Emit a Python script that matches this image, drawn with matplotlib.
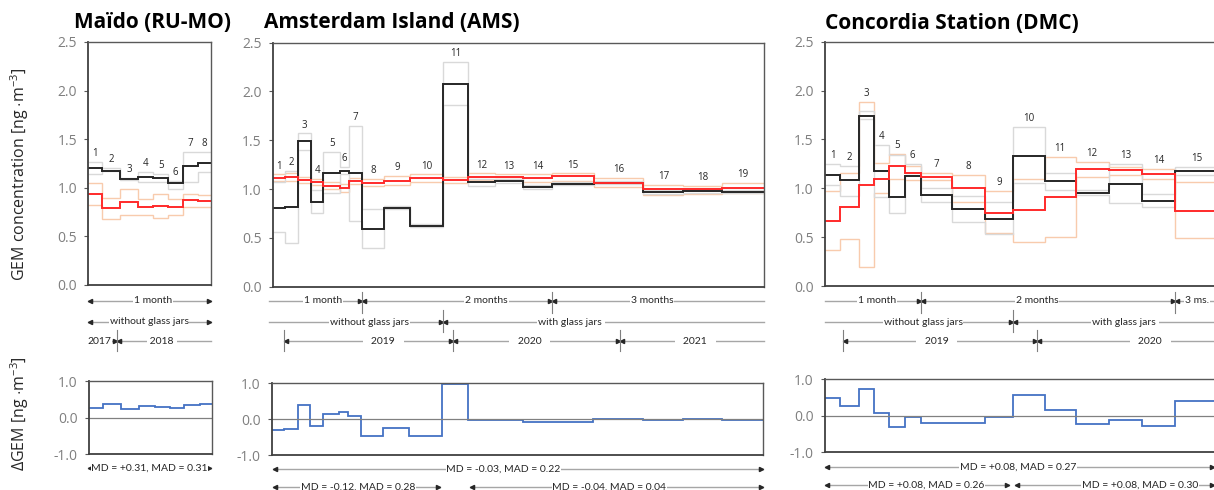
import matplotlib.pyplot as plt
import matplotlib.transforms as mtransforms
import numpy as np

plt.rcParams['font.family'] = ['Open Sans', 'DejaVu Sans']
plt.rcParams['mathtext.fontset'] = 'custom'
plt.rcParams['mathtext.rm'] = 'Open Sans'

# ---- data ----
# sampling periods in days
mo_days = [27, 37, 35, 32, 30, 29, 31, 25]
mo_black = [1.20, 1.175, 1.09, 1.11, 1.10, 1.05, 1.22, 1.26]
mo_ghi = [1.27, 1.20, 1.10, 1.16, 1.14, 1.07, 1.37, 1.37]
mo_glo = [1.14, 1.17, 1.08, 1.055, 1.06, 0.99, 1.06, 1.16]
mo_red = [0.94, 0.79, 0.85, 0.80, 0.81, 0.80, 0.87, 0.86]
mo_ohi = [1.05, 0.89, 0.99, 0.88, 0.94, 0.88, 0.94, 0.925]
mo_olo = [0.82, 0.68, 0.72, 0.72, 0.685, 0.72, 0.80, 0.80]
mo_delta = [0.27, 0.37, 0.23, 0.31, 0.28, 0.25, 0.34, 0.38]

ams_days = [28, 31, 29, 29, 38, 21, 30, 51, 59, 77, 58, 62, 65, 67, 96, 114, 92, 90, 96]
ams_black = [0.81, 0.82, 1.49, 0.87, 1.17, 1.19, 1.165, 0.59, 0.81, 0.62, 2.08, 1.07, 1.08,
             1.02, 1.05, 1.06, 0.97, 0.98, 0.97]
ams_ghi = [1.07, 1.19, 1.57, 0.99, 1.38, 1.23, 1.65, 0.80, 0.83, 0.64, 2.30, 1.10, 1.10,
           1.04, 1.07, 1.08, 0.99, 1.00, 0.99]
ams_glo = [0.56, 0.45, 1.40, 0.76, 0.96, 1.15, 0.67, 0.40, 0.80, 0.61, 1.86, 1.03, 1.06,
           1.00, 1.04, 1.05, 0.95, 0.96, 0.96]
ams_red = [1.11, 1.12, 1.09, 1.07, 1.035, 1.01, 1.08, 1.065, 1.085, 1.11, 1.09, 1.12, 1.12,
           1.11, 1.13, 1.065, 1.00, 1.00, 1.01]
ams_ohi = [1.15, 1.16, 1.12, 1.10, 1.07, 1.05, 1.11, 1.10, 1.13, 1.15, 1.12, 1.16, 1.15,
           1.15, 1.16, 1.11, 1.04, 1.035, 1.06]
ams_olo = [1.08, 1.08, 1.06, 1.04, 1.00, 0.97, 1.05, 1.03, 1.04, 1.07, 1.06, 1.09, 1.10,
           1.07, 1.08, 1.02, 0.94, 0.95, 0.96]
ams_delta = [-0.30, -0.28, 0.40, -0.19, 0.14, 0.19, 0.09, -0.46, -0.25, -0.48, 0.98, -0.04,
             -0.03, -0.07, -0.07, -0.01, -0.02, -0.01, -0.03]

dmc_days = [29, 35, 28, 28, 30, 30, 60, 61, 53, 60, 58, 62, 63, 62, 81]
dmc_black = [1.14, 1.08, 1.74, 1.18, 0.91, 1.13, 0.93, 0.79, 0.69, 1.33, 1.07, 0.955, 1.04, 0.87, 1.18]
dmc_ghi = [1.245, 1.23, 1.79, 1.44, 1.34, 1.245, 1.00, 0.92, 0.86, 1.63, 1.16, 0.98, 1.245, 0.94, 1.22]
dmc_glo = [1.03, 0.92, 1.71, 0.91, 0.75, 1.14, 0.86, 0.65, 0.53, 1.05, 0.98, 0.93, 0.85, 0.81, 1.14]
dmc_red = [0.67, 0.81, 1.03, 1.10, 1.23, 1.16, 1.12, 1.00, 0.75, 0.78, 0.91, 1.20, 1.19, 1.15, 0.77]
dmc_ohi = [0.97, 1.16, 1.88, 1.255, 1.35, 1.23, 1.16, 1.14, 0.97, 1.095, 1.32, 1.27, 1.22, 1.20, 1.06]
dmc_olo = [0.37, 0.48, 0.19, 0.95, 1.095, 1.085, 1.085, 0.86, 0.545, 0.45, 0.505, 1.12, 1.14, 1.10, 0.49]
dmc_delta = [0.47, 0.26, 0.72, 0.08, -0.30, -0.03, -0.19, -0.21, -0.05, 0.55, 0.16, -0.24, -0.13,
             -0.27, 0.39]

BLACK = '#262626'
RED = '#FF2A2A'
GREY = '#D9D9D9'
ORANGE = '#F8CBAD'
BLUE = '#4472C4'
ALINE = '#A6A6A6'

W, H = 1214, 490
fig = plt.figure(figsize=(W / 100, H / 100), dpi=100)


def px_axes(l, t, r, b):
    return fig.add_axes([l / W, 1 - b / H, (r - l) / W, (b - t) / H])


def style(ax, ylim, yticks):
    ax.set_ylim(*ylim)
    ax.set_yticks(yticks)
    ax.set_yticklabels(['%.1f' % v for v in yticks])
    ax.set_xticks([])
    ax.tick_params(axis='y', length=3, width=0.8, color='#595959', labelcolor='#7F7F7F',
                   labelsize=10, pad=5)
    for s in ['left', 'bottom']:
        ax.spines[s].set_color('#404040')
        ax.spines[s].set_linewidth(1.3)
    for s in ['top', 'right']:
        ax.spines[s].set_color('#595959')
        ax.spines[s].set_linewidth(1.0)


def top_panel(ax, days, black, ghi, glo, red, ohi, olo):
    edges = np.concatenate([[0], np.cumsum(days)])
    for v in (ohi, olo):
        ax.stairs(v, edges, baseline=None, color=ORANGE, lw=1.0)
    for v in (ghi, glo):
        ax.stairs(v, edges, baseline=None, color=GREY, lw=1.0)
    ax.stairs(black, edges, baseline=None, color=BLACK, lw=1.4)
    ax.stairs(red, edges, baseline=None, color=RED, lw=1.4)
    for i in range(len(days)):
        top = max(black[i], ghi[i], red[i], ohi[i])
        ax.text((edges[i] + edges[i + 1]) / 2, top + 0.03, str(i + 1), ha='center',
                va='bottom', fontsize=7, color='#262626')
    ax.set_xlim(0, edges[-1])
    style(ax, (0, 2.5), [0, 0.5, 1.0, 1.5, 2.0, 2.5])
    return edges


def bottom_panel(ax, days, delta):
    edges = np.concatenate([[0], np.cumsum(days)])
    ax.axhline(0, color='#808080', lw=0.9)
    ax.stairs(delta, edges, baseline=None, color=BLUE, lw=1.3)
    ax.set_xlim(0, edges[-1])
    style(ax, (-1, 1), [-1.0, 0.0, 1.0])


ax1 = px_axes(88.3, 42, 210.7, 285)
ax1b = px_axes(89, 381, 212, 454)
ax2 = px_axes(272.7, 42.7, 764, 286.7)
ax2b = px_axes(272, 383, 763.3, 455)
ax3 = px_axes(825, 41.7, 1218, 286)
ax3b = px_axes(825, 379, 1218, 452.3)

top_panel(ax1, mo_days, mo_black, mo_ghi, mo_glo, mo_red, mo_ohi, mo_olo)
top_panel(ax2, ams_days, ams_black, ams_ghi, ams_glo, ams_red, ams_ohi, ams_olo)
top_panel(ax3, dmc_days, dmc_black, dmc_ghi, dmc_glo, dmc_red, dmc_ohi, dmc_olo)
bottom_panel(ax1b, mo_days, mo_delta)
bottom_panel(ax2b, ams_days, ams_delta)
bottom_panel(ax3b, dmc_days, dmc_delta)

# overlay for annotations (y in pixels, x in each panel's days)
ov = fig.add_axes([0, 0, 1, 1])
ov.set_xlim(0, W)
ov.set_ylim(H, 0)
ov.axis('off')


def seg(ax, y, x0, x1, text=None, xt=None, la=True, ra=True):
    tr = mtransforms.blended_transform_factory(ax.transData, ov.transData)
    ov.plot([x0, x1], [y, y], color=ALINE, lw=1.0, transform=tr, clip_on=False)
    if la:
        ov.plot([x0], [y], marker='<', ms=3, color=BLACK, lw=0, clip_on=False,
                transform=mtransforms.offset_copy(tr, fig, x=2, units='dots'))
    if ra:
        ov.plot([x1], [y], marker='>', ms=3, color=BLACK, lw=0, clip_on=False,
                transform=mtransforms.offset_copy(tr, fig, x=-2, units='dots'))
    if text:
        ov.text(xt, y, text, transform=tr, ha='center', va='center', fontsize=7.5,
                color='#262626', family=['Lato', 'DejaVu Sans'],
                bbox=dict(fc='white', ec='none', pad=0.5))


def vtick(ax, x, y0, y1):
    tr = mtransforms.blended_transform_factory(ax.transData, ov.transData)
    ov.plot([x, x], [y0, y1], color='#7F7F7F', lw=0.8, transform=tr, clip_on=False)


# Maido
seg(ax1, 300.7, 0, 246, '1 month', 130)
seg(ax1, 321.7, 0, 246, 'without glass jars', 122)
seg(ax1, 341, 0, 57, '2017', 23, la=False)
seg(ax1, 341, 57, 246, ' 2018 ', 148, ra=False)
vtick(ax1, 57, 330, 351)
seg(ax1, 468.3, 0, 246, 'MD = +0.31, MAD = 0.31', 123)

# Amsterdam Island
seg(ax2, 300.7, -8, 206, '1 month', 116, la=False)
seg(ax2, 300.7, 206, 645, '2 months', 493)
seg(ax2, 300.7, 645, 1133, '3 months', 875, ra=False)
vtick(ax2, 206, 291.7, 313.3)
vtick(ax2, 645, 291.7, 313.3)
seg(ax2, 322, -8, 393, 'without glass jars', 223, la=False)
seg(ax2, 322, 393, 1133, 'with glass jars ', 688, ra=False)
vtick(ax2, 393, 310, 332)
seg(ax2, 341, 27, 416, '   2019   ', 255)
seg(ax2, 341, 416, 802, '   2020   ', 593)
seg(ax2, 341, 802, 1133, '   2021   ', 974, ra=False)
for x in (27, 416, 802):
    vtick(ax2, x, 330, 351)
seg(ax2, 469, 0, 1131, 'MD = -0.03, MAD = 0.22', 532)
seg(ax2, 486.7, 0, 386, 'MD = -0.12, MAD = 0.28', 197)
seg(ax2, 486.7, 454, 1131, 'MD = -0.04, MAD = 0.04', 776)

# Concordia Station
seg(ax3, 300.7, 0, 180, '1 month', 98, la=False)
seg(ax3, 300.7, 180, 659, '2 months', 399)
seg(ax3, 300.7, 659, 740, '3 ms.', 700, ra=False)
vtick(ax3, 180, 291.7, 313.3)
vtick(ax3, 659, 291.7, 313.3)
seg(ax3, 322, 0, 354, 'without glass jars', 185, la=False)
seg(ax3, 322, 354, 740, 'with glass jars ', 565, ra=False)
vtick(ax3, 354, 310, 332)
seg(ax3, 341, 33, 399, '   2019   ', 210)
seg(ax3, 341, 399, 740, '   2020   ', 612, ra=False)
vtick(ax3, 33, 330, 351)
vtick(ax3, 399, 330, 351)
seg(ax3, 466.7, 0, 732, 'MD = +0.08, MAD = 0.27', 363)
seg(ax3, 485, 0, 347, 'MD = +0.08, MAD = 0.26', 191)
seg(ax3, 485, 358, 732, 'MD = +0.08, MAD = 0.30', 593)

# titles and axis labels
fig.text(152 / W, 1 - 23 / H, 'Maïdo (RU-MO)', ha='center', va='center', fontsize=15,
         fontweight='bold')
fig.text(391.7 / W, 1 - 22 / H, 'Amsterdam Island (AMS)', ha='center', va='center',
         fontsize=15, fontweight='bold')
fig.text(951.7 / W, 1 - 23.3 / H, 'Concordia Station (DMC)', ha='center', va='center',
         fontsize=15, fontweight='bold')
fig.text(20 / W, 1 - 174 / H, r'GEM concentration [ng $\cdot$m$^{\mathregular{-3}}$]',
         rotation=90, ha='center', va='center', fontsize=11.5, color='#262626')
fig.text(20 / W, 1 - 414 / H, r'$\Delta$GEM [ng $\cdot$m$^{\mathregular{-3}}$]',
         rotation=90, ha='center', va='center', fontsize=11.5, color='#262626')

fig.savefig('out.png', dpi=100)
